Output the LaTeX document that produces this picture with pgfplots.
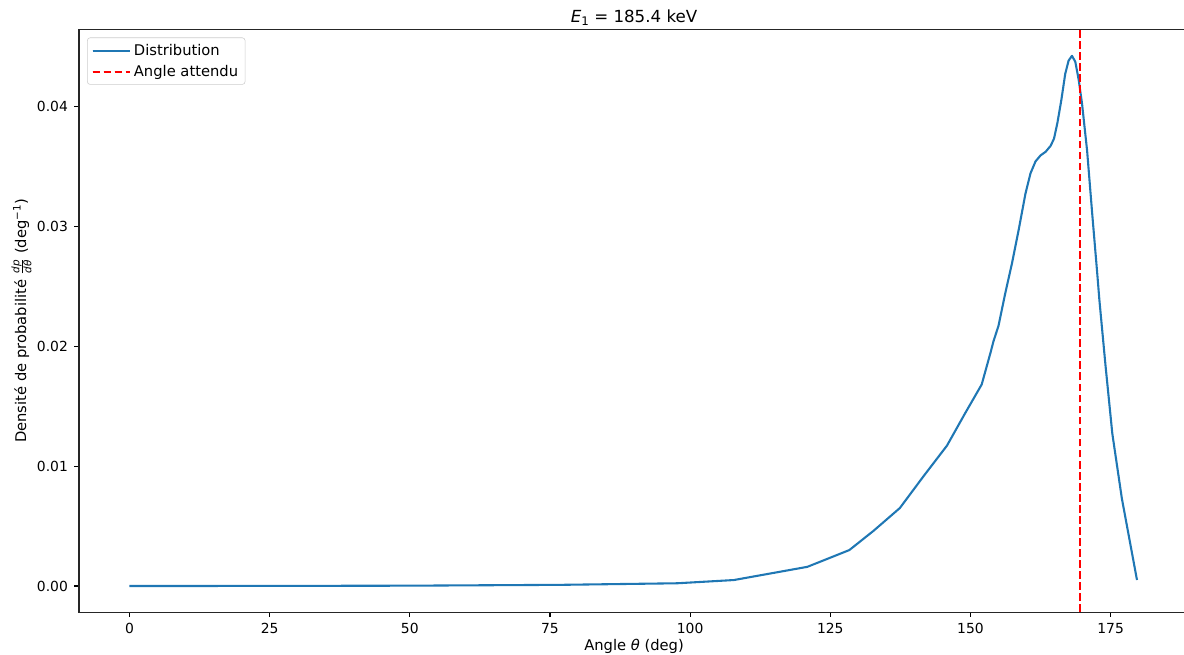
\documentclass[border=0pt]{standalone}
\usepackage{pgfplots}
\pgfplotsset{compat=1.18}
\usepackage{fontspec}
\setmainfont{DejaVu Sans}
\definecolor{mplblue}{HTML}{1F77B4}
\definecolor{spine}{HTML}{262626}
\begin{document}
\begin{tikzpicture}
\begin{axis}[
  name=ax,
  scale only axis,
  width=799.3pt, height=419.5pt,
  xmin=-9, xmax=189, ymin=-0.00217, ymax=0.0464,
  xtick={0,25,50,75,100,125,150,175},
  ytick={0,0.01,0.02,0.03,0.04},
  scaled y ticks=false,
  yticklabel style={/pgf/number format/fixed, /pgf/number format/fixed zerofill, /pgf/number format/precision=2},
  /pgf/number format/assume math mode=true,
  tick label style={font=\fontsize{10}{12}\selectfont, color=black},
  label style={font=\fontsize{10.6}{12}\selectfont},
  tick align=outside, major tick length=3.5pt,
  xtick pos=bottom, ytick pos=left,
  every tick/.style={black, line width=0.8pt},
  axis line style={spine, line width=0.8pt},
  xticklabel style={yshift=-1pt},
  yticklabel style={xshift=-1pt},
  title={\textit{E}\raisebox{-0.35ex}{\fontsize{8.5}{10}\selectfont 1} = 185.4 keV},
  title style={font=\fontsize{12}{14}\selectfont, yshift=-6.5pt},
  xlabel={Angle \textit{θ} (deg)},
  ylabel={Densité de probabilité $\frac{\mbox{\fontsize{7.5}{8}\selectfont\itshape dp}}{\mbox{\fontsize{7.5}{8}\selectfont\itshape dθ}}$ (deg\textsuperscript{−1})},
  xlabel style={yshift=3pt},
  ylabel style={yshift=-3pt},
  legend style={at={(0,1)}, anchor=north west, xshift=5.8pt, yshift=-5.8pt,
    draw=black!20, rounded corners=2pt, font=\fontsize{10.6}{12.5}\selectfont,
    row sep=1.5pt, inner xsep=3pt, inner ysep=2.5pt},
  legend cell align=left,
  legend image code/.code={\draw[#1] (0cm,0cm) -- (0.8cm,0cm); \path (0cm,0cm) -- (0.95cm,0cm);},
]
\addplot[mplblue, line width=1.5pt, line join=round] coordinates {
(0,0) (25,0.00001) (50,0.00003) (77,0.0001) (97.7,0.00023)
(107.8,0.0005) (120.9,0.0016) (128.4,0.0030) (132.7,0.0046) (137.4,0.0065)
(141.7,0.0092) (145.8,0.0117) (149.1,0.01445) (152.0,0.0168) (153.6,0.0195)
(154.1,0.0204) (155.0,0.0217) (156.2,0.0244) (157.4,0.0269) (158.6,0.0297)
(159.8,0.0327) (160.7,0.0344) (161.6,0.0354) (162.5,0.0359) (163.4,0.0362)
(164.3,0.0367) (164.9,0.0373) (165.5,0.0386) (166.2,0.0405) (166.9,0.0427)
(167.5,0.0438) (168.1,0.0442) (168.7,0.0437) (169.3,0.0422) (169.9,0.0402)
(170.8,0.0363) (171.7,0.0311) (172.6,0.0261) (173.0,0.0238)
(174.1,0.0183) (175.3,0.0127) (177.0,0.0073) (179.7,0.0005)
};
\addlegendentry{Distribution}
\addplot[red, line width=1.5pt, dash pattern=on 5.55pt off 2.4pt] coordinates {(169.5,-0.00217) (169.5,0.0464)};
\addlegendentry{Angle attendu}
\end{axis}
\pgfresetboundingbox
\path (ax.south west) ++(-56.9pt,-30.2pt) rectangle ++(852.5pt,470.9pt);
\end{tikzpicture}
\end{document}
